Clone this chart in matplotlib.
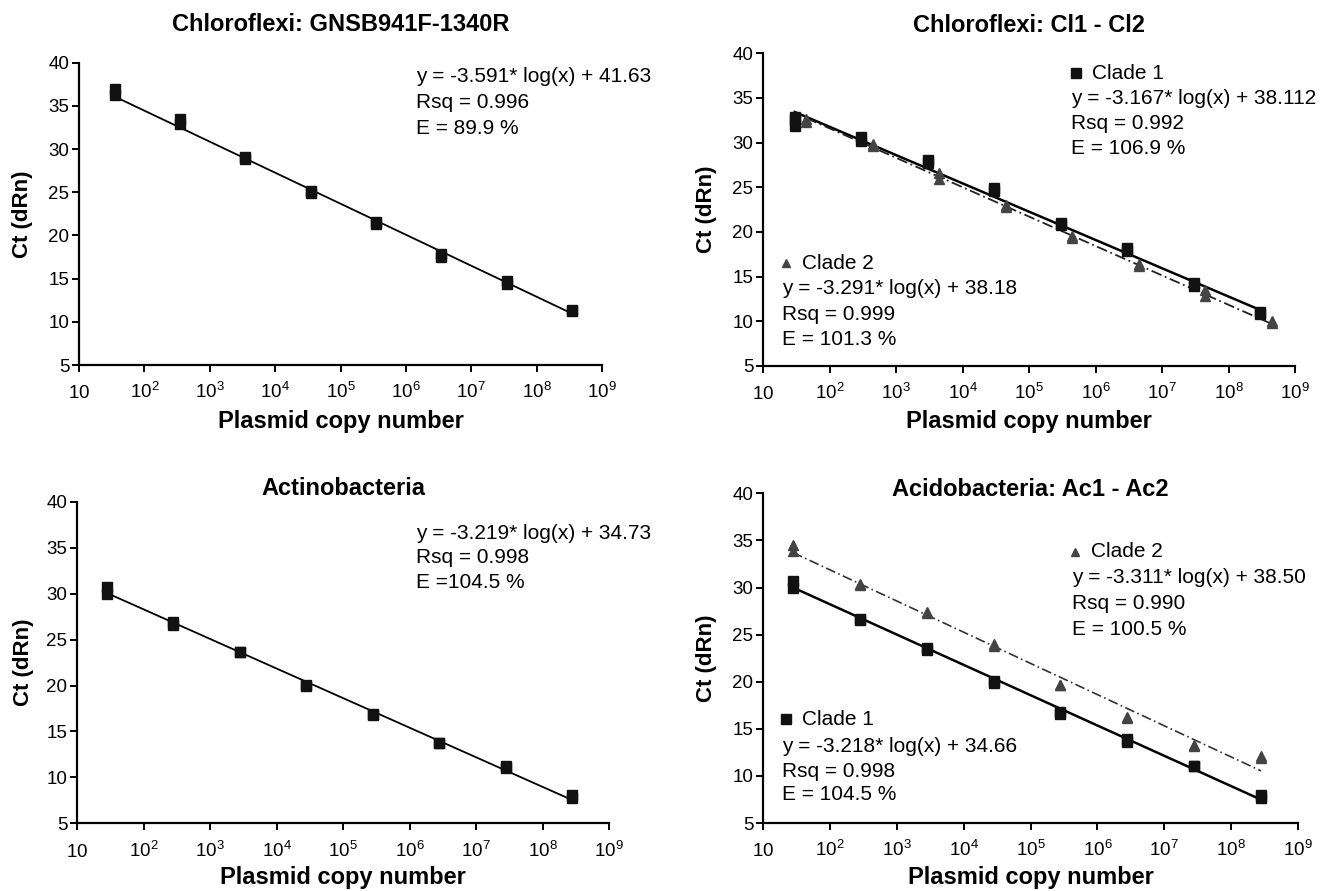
import matplotlib

matplotlib.use("Agg")
import matplotlib.pyplot as plt  # noqa: E402
import numpy as np  # noqa: E402

plt.rcParams["font.family"] = ["Liberation Sans", "DejaVu Sans"]
plt.rcParams["mathtext.fontset"] = "custom"
plt.rcParams["mathtext.rm"] = "Liberation Sans"
plt.rcParams["mathtext.it"] = "Liberation Sans:italic"
plt.rcParams["mathtext.bf"] = "Liberation Sans:bold"

# x axis: plasmid copy number, decades 10^1 .. 10^9
DECADES = [1e1, 1e2, 1e3, 1e4, 1e5, 1e6, 1e7, 1e8, 1e9]
TICK_LABELS = [r"$\mathregular{10}$"] + [r"$\mathregular{10^{%d}}$" % k
                                         for k in range(2, 10)]
Y_TICKS = [5, 10, 15, 20, 25, 30, 35, 40]

# Chloroflexi: GNSB941F-1340R
gnsb_x = [35, 35, 350, 350, 3.5e3, 3.5e3, 3.5e4, 3.5e4,
          3.5e5, 3.5e5, 3.5e6, 3.5e6, 3.5e7, 3.5e7, 3.5e8, 3.5e8]
gnsb_ct = [37.0, 36.3, 33.5, 32.9, 29.1, 28.9, 25.2, 24.9,
           21.5, 21.3, 17.9, 17.5, 14.7, 14.4, 11.4, 11.2]
gnsb_fit = (-3.591, 41.63)
gnsb_text = ["y = -3.591* log(x) + 41.63", "Rsq = 0.996", "E = 89.9 %"]

# Chloroflexi: Cl1 - Cl2
cl1_x = [30, 30, 30, 300, 300, 3e3, 3e3, 3e4, 3e4,
         3e5, 3e5, 3e6, 3e6, 3e7, 3e7, 3e8, 3e8]
cl1_ct = [32.9, 32.5, 31.9, 30.6, 30.2, 28.1, 27.7, 24.9, 24.6,
          21.0, 20.8, 18.2, 17.9, 14.3, 13.9, 11.0, 10.8]
cl1_fit = (-3.167, 38.112)
cl1_text = ["y = -3.167* log(x) + 38.112", "Rsq = 0.992", "E = 106.9 %"]

cl2_x = [45, 45, 450, 450, 4.5e3, 4.5e3, 4.5e4, 4.5e4,
         4.5e5, 4.5e5, 4.5e6, 4.5e6, 4.5e7, 4.5e7, 4.5e8, 4.5e8]
cl2_ct = [32.6, 32.3, 29.9, 29.6, 26.6, 25.9, 23.0, 22.8,
          19.6, 19.3, 16.4, 16.2, 13.5, 12.8, 10.0, 9.8]
cl2_fit = (-3.291, 38.18)
cl2_text = ["y = -3.291* log(x) + 38.18", "Rsq = 0.999", "E = 101.3 %"]

# Actinobacteria
act_x = [28, 28, 280, 280, 2.8e3, 2.8e3, 2.8e4, 2.8e4,
         2.8e5, 2.8e5, 2.8e6, 2.8e6, 2.8e7, 2.8e7, 2.8e8, 2.8e8]
act_ct = [30.7, 30.0, 26.9, 26.6, 23.6, 23.6, 20.1, 20.0,
          16.9, 16.8, 13.8, 13.7, 11.2, 11.0, 8.1, 7.8]
act_fit = (-3.219, 34.73)
act_text = ["y = -3.219* log(x) + 34.73", "Rsq = 0.998", "E =104.5 %"]

# Acidobacteria: Ac1 - Ac2
ac1_x = act_x
ac1_ct = [30.7, 30.0, 26.7, 26.6, 23.6, 23.4, 20.1, 19.9,
          16.8, 16.6, 13.9, 13.6, 11.1, 11.0, 8.0, 7.7]
ac1_fit = (-3.218, 34.66)
ac1_text = ["y = -3.218* log(x) + 34.66", "Rsq = 0.998", "E = 104.5 %"]

ac2_x = act_x
ac2_ct = [34.5, 33.9, 30.4, 30.3, 27.4, 27.3, 24.0, 23.8,
          19.7, 19.6, 16.3, 16.1, 13.3, 13.2, 12.1, 11.9]
ac2_fit = (-3.311, 38.50)
ac2_text = ["y = -3.311* log(x) + 38.50", "Rsq = 0.990", "E = 100.5 %"]

SQ = dict(marker="s", color="#111111", ms=7.5, ls="none", zorder=3)
TRI = dict(marker="^", color="#444444", ms=6.5, ls="none", zorder=3)
FS_TXT = 15


def fit_line(ax, xs, fit, **kw):
    xx = np.array([min(xs), max(xs)])
    ax.plot(xx, fit[0] * np.log10(xx) + fit[1], **kw)


def style_axes(ax, title, title_y, ylab_x, xlab_y):
    ax.set_xscale("log")
    ax.set_xlim(1e1, 1e9)
    ax.set_ylim(5, 40)
    ax.set_xticks(DECADES)
    ax.set_xticklabels(TICK_LABELS)
    ax.xaxis.set_minor_locator(matplotlib.ticker.NullLocator())
    ax.set_yticks(Y_TICKS)
    for s in ["top", "right"]:
        ax.spines[s].set_visible(False)
    for s in ["left", "bottom"]:
        ax.spines[s].set_linewidth(1.6)
    ax.tick_params(direction="out", length=5, width=1.4, labelsize=13.5)
    # share a baseline so the superscripts stick up like in the figure
    ax.tick_params(axis="x", pad=19)
    for lab in ax.get_xticklabels():
        lab.set_va("baseline")
    ax.tick_params(axis="y", pad=2)
    ax.set_xlabel("Plasmid copy number", fontsize=17, fontweight="bold")
    ax.set_ylabel("Ct (dRn)", fontsize=16, fontweight="bold")
    ax.xaxis.set_label_coords(0.5, xlab_y)
    ax.yaxis.set_label_coords(ylab_x, 0.5)
    ax.text(0.5, title_y, title, transform=ax.transAxes, ha="center",
            va="center", fontsize=17, fontweight="bold")


def block(ax, x, ys, lines):
    for yy, s in zip(ys, lines):
        ax.text(x, yy, s, transform=ax.transAxes, fontsize=FS_TXT,
                ha="left", va="center")


def key(ax, x, y, label, style):
    ax.plot([x], [y], transform=ax.transAxes, clip_on=False,
            marker=style["marker"], color=style["color"], ms=style["ms"] - 0.5)
    ax.text(x + 0.03, y, label, transform=ax.transAxes, fontsize=FS_TXT,
            va="center")


W, H = 1336, 891
fig = plt.figure(figsize=(W / 100, H / 100), dpi=100)


def px_axes(x0, x1, y0, y1):
    return fig.add_axes([x0 / W, 1 - y1 / H, (x1 - x0) / W, (y1 - y0) / H])


ax1 = px_axes(79, 602, 62.7, 365)
ax2 = px_axes(763, 1295, 53.3, 366)
ax3 = px_axes(77, 609, 501.7, 823.4)
ax4 = px_axes(763, 1298, 493.3, 823)

# panel 1
fit_line(ax1, gnsb_x, gnsb_fit, color="black", lw=1.3)
ax1.plot(gnsb_x, gnsb_ct, **SQ)
block(ax1, 0.644, [0.953, 0.867, 0.781], gnsb_text)
style_axes(ax1, "Chloroflexi: GNSB941F-1340R", 1.125, -0.088, -0.149)

# panel 2
fit_line(ax2, cl1_x, cl1_fit, color="black", lw=1.8)
fit_line(ax2, cl2_x, cl2_fit, color="#222222", lw=1.3, ls=(0, (6, 2, 1, 2)))
ax2.plot(cl1_x, cl1_ct, **SQ)
ax2.plot(cl2_x, cl2_ct, **TRI)
key(ax2, 0.589, 0.937, "Clade 1", SQ)
block(ax2, 0.579, [0.857, 0.777, 0.697], cl1_text)
key(ax2, 0.043, 0.328, "Clade 2", TRI)
block(ax2, 0.036, [0.249, 0.166, 0.086], cl2_text)
style_axes(ax2, "Chloroflexi: Cl1 - Cl2", 1.09, -0.086, -0.141)

# panel 3
fit_line(ax3, act_x, act_fit, color="black", lw=1.3)
ax3.plot(act_x, act_ct, **SQ)
block(ax3, 0.637, [0.902, 0.827, 0.748], act_text)
style_axes(ax3, "Actinobacteria", 1.04, -0.081, -0.132)

# panel 4
fit_line(ax4, ac1_x, ac1_fit, color="black", lw=1.8)
fit_line(ax4, ac2_x, ac2_fit, color="#333333", lw=1.2, ls=(0, (6, 2, 1, 2)))
ax4.plot(ac1_x, ac1_ct, **SQ)
ax4.plot(ac2_x, ac2_ct, **TRI)
key(ax4, 0.583, 0.823, "Clade 2", TRI)
block(ax4, 0.578, [0.745, 0.666, 0.588], ac2_text)
key(ax4, 0.043, 0.315, "Clade 1", SQ)
block(ax4, 0.036, [0.231, 0.155, 0.085], ac1_text)
style_axes(ax4, "Acidobacteria: Ac1 - Ac2", 1.013, -0.086, -0.130)

fig.savefig("out.png", dpi=100)
